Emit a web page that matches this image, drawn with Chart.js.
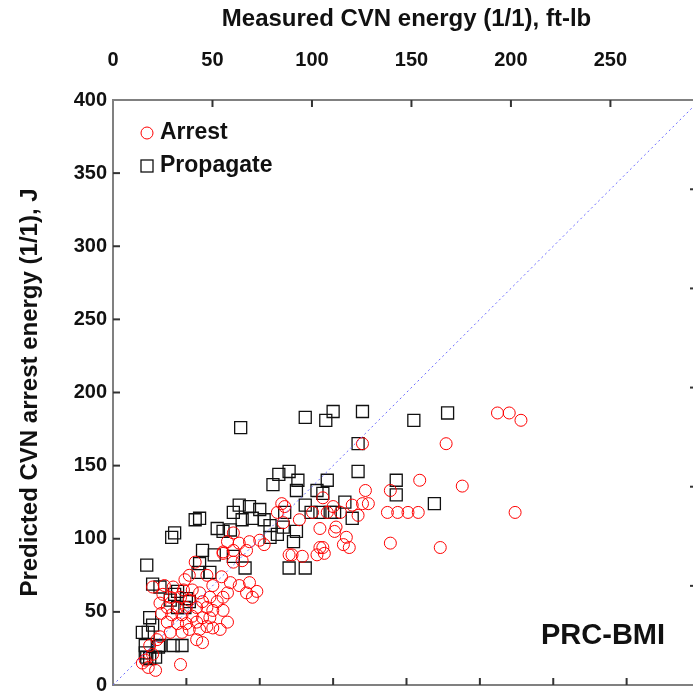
<!DOCTYPE html>
<html>
<head>
<meta charset="utf-8">
<script src="https://cdn.jsdelivr.net/npm/chart.js@4/dist/chart.umd.min.js"></script>
<style>
  html, body { margin: 0; padding: 0; background: #fff; }
  #wrap { width: 693px; height: 693px; overflow: hidden; position: relative; }
  canvas { display: block; }
</style>
</head>
<body>
<div id="wrap"><canvas id="cvn" width="760" height="760"></canvas></div>
<script>
// measured CVN energy (J) vs predicted arrest energy (J)
const arrestMeasured = [262, 270, 278, 227, 238, 274, 223, 170, 209, 172, 170, 174, 189, 187, 194, 201, 208, 189,
  163, 155, 151, 159, 157, 161, 143, 144, 167, 122, 139, 117, 116, 127, 136, 146, 150, 143, 112, 115, 152, 141,
  82, 78, 86, 93, 100, 103, 75, 82, 91, 120, 129, 141, 74, 80, 86, 93, 98, 91, 78, 95, 88, 82,
  27, 35, 41, 48, 54, 59, 34, 39, 46, 52, 61, 32, 37, 44, 50, 57, 64, 71, 68, 75, 33, 40, 47, 54, 61, 66,
  37, 44, 50, 57, 64, 52, 59, 68, 47, 39, 32, 57, 61, 25, 30, 22, 24, 29, 46, 27, 66, 75, 78, 73, 20, 56, 75,
  64, 52, 68, 49];
const arrestPredicted = [186, 186, 181, 165, 136, 118, 94, 165, 140, 133, 124, 124, 133, 118, 118, 118, 118, 97,
  123, 118, 105, 101, 96, 94, 94, 90, 116, 89, 89, 122, 111, 113, 118, 118, 122, 128, 118, 124, 108, 107,
  104, 98, 97, 98, 99, 96, 91, 92, 92, 89, 88, 94, 74, 70, 68, 70, 64, 63, 63, 60, 85, 84,
  67, 68, 67, 65, 65, 63, 62, 60, 60, 58, 57, 56, 53, 53, 53, 53, 53, 57, 51, 51, 49, 48, 48, 47, 46, 46,
  43, 42, 42, 43, 40, 38, 38, 39, 36, 36, 33, 31, 29, 27, 31, 17, 12, 10, 14, 21, 60, 60, 43, 38, 15, 84, 90,
  75, 75, 68, 72];

const propagateMeasured = [87, 131, 145, 150, 170, 205, 228, 167, 167, 193, 193, 219, 146, 158, 163, 109, 113, 120,
  126, 125, 131, 139, 143, 135, 141, 148, 86, 93, 82, 100, 88, 95, 107, 116, 112, 125, 123, 107, 75, 80,
  82, 90, 120, 131, 59, 56, 40, 42, 23, 61, 71, 27, 32, 44, 58, 66, 59, 25, 27, 20, 24, 22, 32, 41, 47,
  42, 50, 23, 29, 39, 44, 31, 25, 22, 49, 52, 151, 103, 117, 69];
const propagatePredicted = [176, 183, 181, 187, 187, 181, 186, 165, 146, 140, 130, 124, 140, 125, 114, 137, 144, 146,
  140, 133, 123, 133, 131, 118, 118, 118, 123, 122, 118, 120, 113, 114, 109, 108, 103, 105, 98, 101, 105, 106,
  88, 80, 80, 80, 114, 113, 101, 104, 82, 92, 107, 69, 67, 64, 77, 77, 83, 46, 41, 36, 36, 27, 27, 27, 27,
  62, 59, 19, 19, 58, 53, 26, 18, 22, 53, 57, 118, 113, 118, 89];

// 1:1 line
const diagX = [0, 400];
const diagY = [0, 400];

const J_PER_FTLB = 1.35582;
const FONT = "'Liberation Sans', Arial, sans-serif";
const NARROW = "'Liberation Sans Narrow', 'Liberation Sans', Arial, sans-serif";

function pts(xs, ys) {
  return xs.map((x, i) => ({ x: x, y: ys[i] }));
}

const innerTicks = {
  id: 'innerTicks',
  afterDatasetsDraw(chart) {
    const ctx = chart.ctx, a = chart.chartArea;
    ctx.save();
    ctx.strokeStyle = '#333';
    ctx.lineWidth = 2;
    ['x', 'x2', 'y', 'y2'].forEach(id => {
      const s = chart.scales[id];
      const len = id === 'y2' ? 10 : 7;
      s.ticks.forEach(t => {
        if (t.value <= s.min || t.value >= s.max) return;
        const p = s.getPixelForValue(t.value);
        ctx.beginPath();
        if (id === 'x') { ctx.moveTo(p, a.bottom); ctx.lineTo(p, a.bottom - len); }
        if (id === 'x2') { ctx.moveTo(p, a.top); ctx.lineTo(p, a.top + len); }
        if (id === 'y') { ctx.moveTo(a.left, p); ctx.lineTo(a.left + len, p); }
        if (id === 'y2') { ctx.moveTo(a.right, p); ctx.lineTo(a.right - len, p); }
        ctx.stroke();
      });
    });
    ctx.restore();
  }
};

const annotations = {
  id: 'annotations',
  afterDraw(chart) {
    const ctx = chart.ctx;
    ctx.save();
    ctx.font = 'bold 23px ' + FONT;
    ctx.fillStyle = '#111';
    ctx.textBaseline = 'middle';
    // legend
    ctx.strokeStyle = 'red';
    ctx.lineWidth = 1;
    ctx.beginPath();
    ctx.arc(147, 133, 6, 0, Math.PI * 2);
    ctx.stroke();
    ctx.fillText('Arrest', 160, 133);
    ctx.strokeStyle = '#111';
    ctx.lineWidth = 1.3;
    ctx.strokeRect(141, 160, 12, 12);
    ctx.fillText('Propagate', 160, 166);
    // model label
    ctx.font = 'bold 29px ' + FONT;
    ctx.fillText('PRC-BMI', 541, 636);
    ctx.restore();
  }
};

const tickFont = { family: NARROW, size: 20, weight: 'bold' };
const titleFont = { family: FONT, size: 24, weight: 'bold' };
const border = { color: '#808080', width: 2 };
const noGrid = { display: false, drawTicks: false };

new Chart(document.getElementById('cvn'), {
  type: 'scatter',
  data: {
    datasets: [
      {
        label: 'Arrest',
        data: pts(arrestMeasured, arrestPredicted),
        pointStyle: 'circle',
        pointRadius: 6,
        borderColor: 'red',
        borderWidth: 1,
        backgroundColor: 'rgba(0,0,0,0)',
        order: 1
      },
      {
        label: 'Propagate',
        data: pts(propagateMeasured, propagatePredicted),
        pointStyle: 'rect',
        pointRadius: 8.5,
        borderColor: '#111',
        borderWidth: 1.3,
        backgroundColor: 'rgba(0,0,0,0)',
        order: 2
      },
      {
        label: '1:1',
        data: pts(diagX, diagY),
        showLine: true,
        pointRadius: 0,
        borderColor: '#6a6aff',
        borderWidth: 1,
        borderDash: [2, 3],
        order: 0
      }
    ]
  },
  options: {
    responsive: false,
    animation: false,
    layout: { padding: 0 },
    plugins: { legend: { display: false }, tooltip: { enabled: false } },
    scales: {
      x: {
        type: 'linear', position: 'bottom', min: 0, max: 400,
        grid: noGrid, border: border,
        ticks: { stepSize: 50, padding: 20, font: tickFont, color: '#111' },
        afterFit: s => { s.height = 75; }
      },
      x2: {
        type: 'linear', position: 'top', min: 0, max: 400 / J_PER_FTLB,
        grid: noGrid, border: border,
        ticks: { stepSize: 50, includeBounds: false, padding: 28, font: tickFont, color: '#111' },
        title: { display: true, text: 'Measured CVN energy (1/1), ft-lb', font: titleFont, color: '#111', padding: { top: 5, bottom: 0 } },
        afterFit: s => { s.height = 100; }
      },
      y: {
        type: 'linear', position: 'left', min: 0, max: 400,
        grid: noGrid, border: border,
        ticks: { stepSize: 50, padding: 6, font: tickFont, color: '#111' },
        title: { display: true, text: 'Predicted CVN arrest energy (1/1), J', font: titleFont, color: '#111', padding: { top: 16, bottom: 0 } },
        afterFit: s => { s.width = 113; }
      },
      y2: {
        type: 'linear', position: 'right', min: 0, max: 400 / J_PER_FTLB,
        grid: noGrid, border: border,
        ticks: { stepSize: 50, includeBounds: false, padding: 20, font: tickFont, color: '#111' },
        afterFit: s => { s.width = 60; }
      }
    }
  },
  plugins: [innerTicks, annotations]
});
</script>
</body>
</html>
